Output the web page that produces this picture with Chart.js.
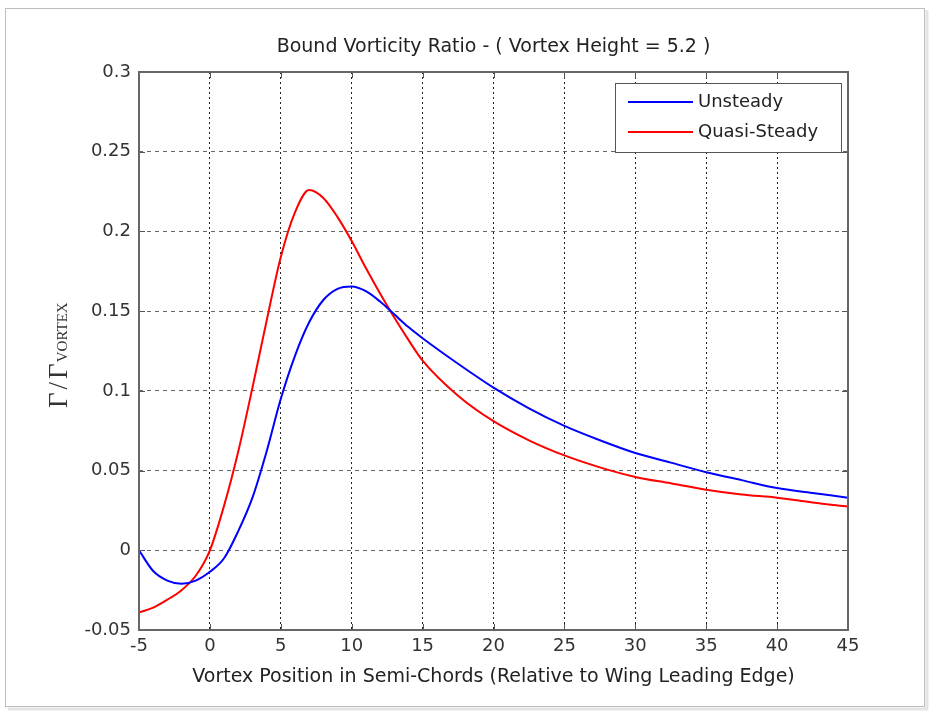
<!DOCTYPE html>
<html>
<head>
<meta charset="utf-8">
<script src="https://cdn.jsdelivr.net/npm/chart.js@4.4.1/dist/chart.umd.min.js"></script>
<style>
  html, body { margin: 0; padding: 0; background: #fff; }
  #wrap { position: relative; width: 935px; height: 711px; }
</style>
</head>
<body>
<div id="wrap"><canvas id="chart" width="935" height="711"></canvas></div>
<script>
// values
const xPositions = [-5, -4, -3, -2, -1, 0, 1, 2, 3, 4, 5, 6, 7, 8, 9, 10, 11, 12, 13, 14, 15,
  17.5, 20, 22.5, 25, 27.5, 30, 32.5, 35, 37.5, 40, 42.5, 45];
const unsteady = [0.0, -0.013, -0.019, -0.021, -0.019, -0.0135, -0.005, 0.012, 0.033, 0.062, 0.095,
  0.122, 0.143, 0.157, 0.164, 0.1655, 0.1625, 0.156, 0.148, 0.140, 0.133,
  0.117, 0.102, 0.089, 0.078, 0.069, 0.061, 0.055, 0.049, 0.044, 0.039, 0.036, 0.033];
const quasiSteady = [-0.039, -0.036, -0.031, -0.025, -0.016, 0.0, 0.028, 0.062, 0.102, 0.144, 0.184,
  0.212, 0.226, 0.221, 0.209, 0.194, 0.177, 0.161, 0.146, 0.132, 0.119,
  0.097, 0.081, 0.069, 0.0595, 0.052, 0.046, 0.042, 0.038, 0.035, 0.033, 0.030, 0.0275];
const seriesLabels = ["Unsteady", "Quasi-Steady"];
const titleText = "Bound Vorticity Ratio - ( Vortex Height = 5.2 )";
const xTitle = "Vortex Position in Semi-Chords (Relative to Wing Leading Edge)";

const FONT = "'DejaVu Sans', sans-serif";

function toPoints(ys) {
  return xPositions.map((x, i) => ({ x: x, y: ys[i] }));
}

// frame, box, inner ticks, titles, legend - matlab look
const matlabLook = {
  id: "matlabLook",
  beforeDraw(chart) {
    const ctx = chart.ctx;
    ctx.save();
    ctx.fillStyle = "#fff";
    ctx.fillRect(0, 0, chart.width, chart.height);
    // outer figure frame with a soft shadow
    ctx.strokeStyle = "#e4e4e4";
    ctx.lineWidth = 3;
    ctx.beginPath();
    ctx.moveTo(927, 10);
    ctx.lineTo(927, 709);
    ctx.lineTo(8, 709);
    ctx.stroke();
    ctx.strokeStyle = "#bdbdbd";
    ctx.lineWidth = 1;
    ctx.strokeRect(5.5, 8.5, 919, 698);
    ctx.restore();
  },
  afterDraw(chart) {
    const ctx = chart.ctx;
    const a = chart.chartArea;
    const xs = chart.scales.x;
    const ys = chart.scales.y;
    ctx.save();

    // inner ticks
    ctx.strokeStyle = "#555";
    ctx.lineWidth = 1;
    ctx.beginPath();
    xs.ticks.forEach((t) => {
      const px = Math.round(xs.getPixelForValue(t.value)) + 0.5;
      ctx.moveTo(px, a.bottom);
      ctx.lineTo(px, a.bottom - 6);
      ctx.moveTo(px, a.top);
      ctx.lineTo(px, a.top + 6);
    });
    ys.ticks.forEach((t) => {
      const py = Math.round(ys.getPixelForValue(t.value)) + 0.5;
      ctx.moveTo(a.left, py);
      ctx.lineTo(a.left + 6, py);
      ctx.moveTo(a.right, py);
      ctx.lineTo(a.right - 6, py);
    });
    ctx.stroke();

    // axes box
    ctx.strokeStyle = "#666";
    ctx.lineWidth = 2;
    ctx.strokeRect(a.left, a.top, a.right - a.left, a.bottom - a.top);

    // title and x label
    ctx.fillStyle = "#222";
    ctx.textAlign = "center";
    ctx.textBaseline = "middle";
    ctx.font = "19px " + FONT;
    const cx = (a.left + a.right) / 2;
    ctx.fillText(titleText, cx, 47);
    ctx.fillText(xTitle, cx, 677);

    // y label: Γ / Γ with VORTEX subscript, rotated
    ctx.save();
    ctx.translate(67, 0);
    ctx.rotate(-Math.PI / 2);
    ctx.textAlign = "left";
    ctx.textBaseline = "alphabetic";
    ctx.fillStyle = "#333";
    let u = -408;
    ctx.font = "27px 'Liberation Serif', serif";
    ctx.fillText("\u0393", u, 0);
    u += ctx.measureText("\u0393").width + 3;
    ctx.fillText("/", u, 0);
    u += ctx.measureText("/").width + 3;
    ctx.fillText("\u0393", u, 0);
    u += ctx.measureText("\u0393").width + 1;
    ctx.font = "15px 'Liberation Serif', serif";
    ctx.fillText("VORTEX", u, 0);
    ctx.restore();

    // legend box
    const lx = 615, ly = 83, lw = 226, lh = 69;
    ctx.fillStyle = "#fff";
    ctx.fillRect(lx, ly, lw, lh);
    ctx.strokeStyle = "#555";
    ctx.lineWidth = 1;
    ctx.strokeRect(lx + 0.5, ly + 0.5, lw, lh);
    ctx.font = "18px " + FONT;
    ctx.textAlign = "left";
    ctx.textBaseline = "middle";
    chart.data.datasets.forEach((ds, i) => {
      const yy = ly + 19 + i * 30;
      ctx.strokeStyle = ds.borderColor;
      ctx.lineWidth = 2;
      ctx.beginPath();
      ctx.moveTo(lx + 13, yy);
      ctx.lineTo(lx + 78, yy);
      ctx.stroke();
      ctx.fillStyle = "#222";
      ctx.fillText(ds.label, lx + 83, yy);
    });
    ctx.restore();
  },
};

new Chart(document.getElementById("chart"), {
  type: "line",
  data: {
    datasets: [
      {
        label: seriesLabels[0],
        data: toPoints(unsteady),
        borderColor: "#0000ff",
        borderWidth: 2,
        pointRadius: 0,
        cubicInterpolationMode: "monotone",
      },
      {
        label: seriesLabels[1],
        data: toPoints(quasiSteady),
        borderColor: "#ff0000",
        borderWidth: 2,
        pointRadius: 0,
        cubicInterpolationMode: "monotone",
      },
    ],
  },
  options: {
    responsive: false,
    animation: false,
    layout: { padding: { top: 72, right: 87, left: 0, bottom: 0 } },
    plugins: {
      legend: { display: false },
      title: { display: false },
      tooltip: { enabled: false },
    },
    scales: {
      x: {
        type: "linear",
        min: -5,
        max: 45,
        afterFit: (s) => { s.height = 81; },
        ticks: {
          stepSize: 5,
          color: "#333",
          font: { family: FONT, size: 18 },
          padding: 6,
          maxRotation: 0,
        },
        grid: { color: "#222", lineWidth: 1, drawTicks: false },
        border: { display: false, dash: [2, 3] },
      },
      y: {
        min: -0.05,
        max: 0.3,
        afterFit: (s) => { s.width = 139; },
        ticks: {
          stepSize: 0.05,
          color: "#333",
          font: { family: FONT, size: 18 },
          padding: 8,
          callback: (v) => String(parseFloat(v.toFixed(2))),
        },
        grid: { color: "#666", lineWidth: 1, drawTicks: false },
        border: { display: false, dash: [4, 4] },
      },
    },
  },
  plugins: [matlabLook],
});
</script>
</body>
</html>
